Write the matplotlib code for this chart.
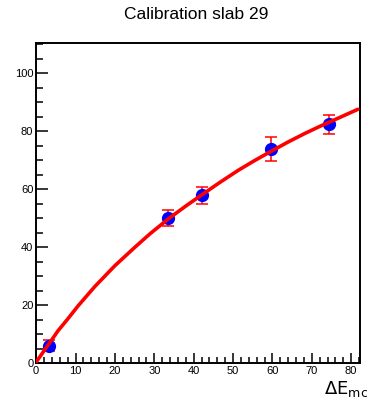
import matplotlib
matplotlib.use("Agg")
import matplotlib.pyplot as plt
from matplotlib.ticker import MultipleLocator

# Data points (measured) with errors
x_pts = [3.3, 33.4, 42.0, 59.6, 74.4]
y_pts = [6.0, 50.1, 57.9, 73.9, 82.4]
y_err = [2.0, 2.9, 3.0, 4.0, 3.4]

# Fit curve
curve_x = [0.1, 5.6, 7.9, 10.7, 14.9, 20.0, 25.1, 28.9, 33.6, 37.8, 42.0, 46.7,
           51.4, 55.6, 59.8, 64.1, 68.3, 72.5, 76.8, 81.7]
curve_y = [0.5, 11.2, 15.0, 19.8, 26.4, 33.6, 40.0, 44.6, 49.8, 54.0, 58.0, 62.4,
           66.6, 70.0, 73.2, 76.4, 79.3, 82.0, 84.6, 87.6]

title = "Calibration slab 29"
x_label = r"$\Delta$E$_{\mathrm{mc}}$"
x_ticks = [0, 10, 20, 30, 40, 50, 60, 70, 80]
y_ticks = [0, 20, 40, 60, 80, 100]

fig = plt.figure(figsize=(3.67, 4.03), dpi=100)
ax = fig.add_axes([0.0985, 0.0993, 0.883, 0.794])

ax.plot(curve_x, curve_y, color="red", lw=2.6, zorder=3,
        solid_capstyle="round", solid_joinstyle="round")
ax.errorbar(x_pts, y_pts, yerr=y_err, fmt="none", ecolor="red", elinewidth=1.1,
            capsize=4, capthick=1.1, zorder=2)
ax.plot(x_pts, y_pts, "o", color="blue", markersize=8.5, zorder=2)

ax.set_xlim(0, 82.3)
ax.set_ylim(0, 110.5)
ax.set_xticks(x_ticks)
ax.set_yticks(y_ticks)
ax.xaxis.set_minor_locator(MultipleLocator(2))
ax.yaxis.set_minor_locator(MultipleLocator(5))
ax.tick_params(which="both", direction="in", top=False, right=False,
               labelsize=8, width=1.1, pad=2)
ax.tick_params(which="major", length=8.5, axis="y")
ax.tick_params(which="minor", length=5, axis="y")
ax.tick_params(which="major", length=7.5, axis="x")
ax.tick_params(which="minor", length=4.5, axis="x")
for lab in ax.get_xticklabels() + ax.get_yticklabels():
    lab.set_family("Liberation Sans")
for sp in ax.spines.values():
    sp.set_linewidth(1.4)

fig.text(0.534, 0.963, title, ha="center", va="center", fontsize=12.5,
         family="Liberation Sans")
fig.text(0.882, 0.022, x_label, ha="left", va="baseline", fontsize=13)

fig.savefig("out.png", dpi=100)
